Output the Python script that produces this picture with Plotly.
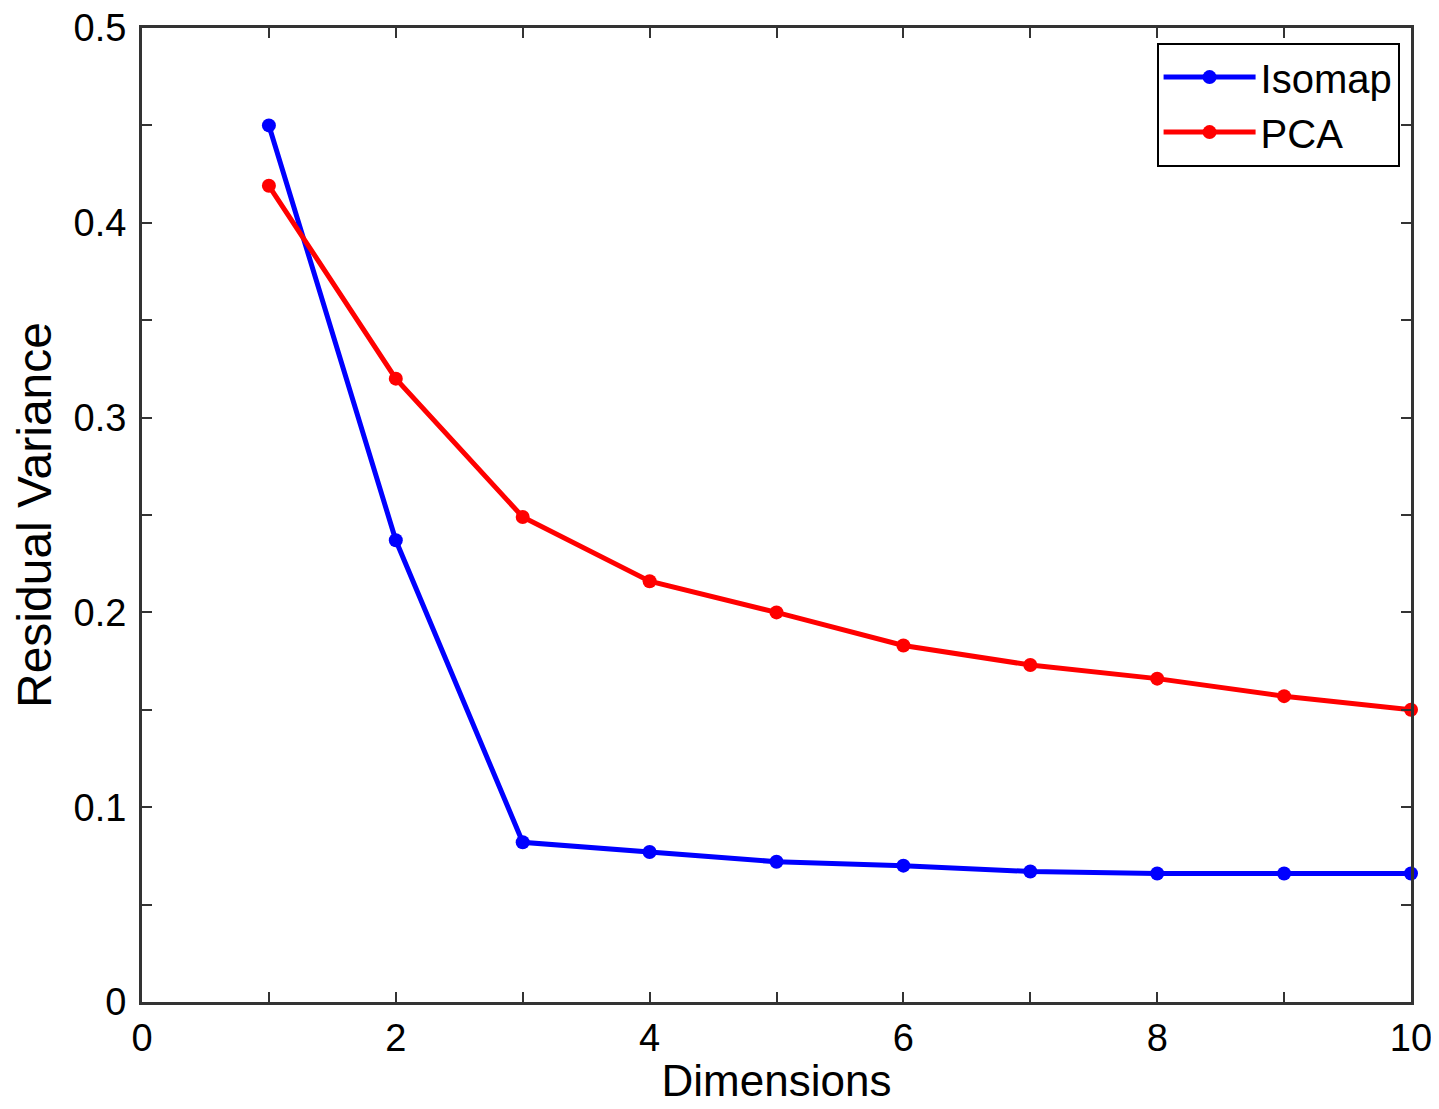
import plotly.graph_objects as go

dims = [1, 2, 3, 4, 5, 6, 7, 8, 9, 10]
isomap = [0.450, 0.237, 0.082, 0.077, 0.072, 0.070, 0.067, 0.066, 0.066, 0.066]
pca = [0.419, 0.320, 0.249, 0.216, 0.200, 0.183, 0.173, 0.166, 0.157, 0.150]
xticks = [0, 2, 4, 6, 8, 10]
yticks = [0, 0.1, 0.2, 0.3, 0.4, 0.5]

fig = go.Figure()
fig.add_trace(go.Scatter(x=dims, y=isomap, mode="lines+markers", name="Isomap",
                         line=dict(color="#0000ff", width=5),
                         marker=dict(color="#0000ff", size=14), cliponaxis=False))
fig.add_trace(go.Scatter(x=dims, y=pca, mode="lines+markers", name="PCA",
                         line=dict(color="#ff0000", width=5),
                         marker=dict(color="#ff0000", size=14), cliponaxis=False))

fam = "Liberation Sans, Arial, sans-serif"
font = dict(family=fam, size=38, color="black")
legfont = dict(family=fam, size=40, color="black")
xtitlefont = dict(family=fam, size=44, color="black")
ytitlefont = dict(family=fam, size=48, color="black")

fig.update_layout(
    width=1439, height=1109,
    margin=dict(l=134, r=36, t=20, b=115, autoexpand=False),
    plot_bgcolor="white", paper_bgcolor="white",
    font=font,
    showlegend=True,
    legend=dict(x=0.991, y=0.985, xanchor="right", yanchor="top",
                bordercolor="black", borderwidth=2, bgcolor="white",
                font=legfont, itemwidth=92),
    xaxis=dict(range=[0, 10], tickvals=xticks, ticktext=[str(v) for v in xticks],
               ticks="inside", ticklen=10, tickwidth=1.5, tickcolor="#333",
               minor=dict(dtick=1, ticks="inside", ticklen=10, tickcolor="#333", showgrid=False),
               showline=True, linecolor="#333", linewidth=3, mirror="ticks",
               showgrid=False, zeroline=False, automargin=False, ticklabeloverflow="allow",
               title=dict(text="Dimensions", font=xtitlefont, standoff=8)),
    yaxis=dict(range=[0, 0.5], tickvals=yticks, ticktext=["0", "0.1", "0.2", "0.3", "0.4", "0.5"],
               ticks="inside", ticklen=10, tickwidth=1.5, tickcolor="#333",
               minor=dict(dtick=0.05, tick0=0, ticks="inside", ticklen=10, tickcolor="#333", showgrid=False),
               showline=True, linecolor="#333", linewidth=3, mirror="ticks",
               showgrid=False, zeroline=False, automargin=False, ticklabelstandoff=5,
               ticklabeloverflow="allow",
               title=dict(text="Residual Variance", font=ytitlefont, standoff=10)),
)

fig.write_html("out.html")
